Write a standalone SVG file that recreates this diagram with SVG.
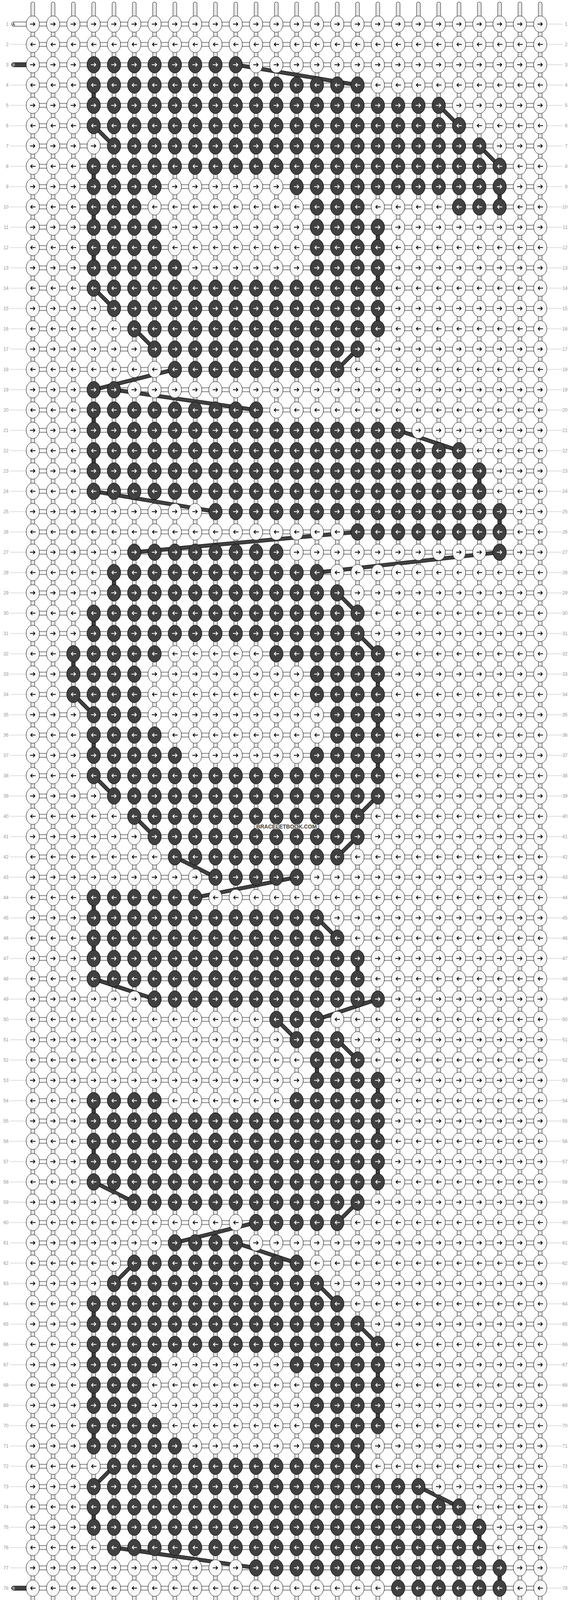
<svg xmlns="http://www.w3.org/2000/svg" width="1468" height="4232" viewBox="0 0 1468 4232">
<style>
.lt{fill:#f8f8f8;stroke:#000;stroke-width:1}
.dk{fill:#404040;stroke:#000;stroke-width:1}
.ab{fill:none;stroke:#000;stroke-width:2}
.aw{fill:none;stroke:#fff;stroke-width:2}
.v1{fill:none;stroke:#000;stroke-width:10.5;stroke-linecap:round}
.v2{fill:none;stroke:#f8f8f8;stroke-width:8.5;stroke-linecap:round}
.v3{fill:none;stroke:#b8b8b8;stroke-width:4.2}
.v4{fill:none;stroke:#f8f8f8;stroke-width:2.6}
.b1{fill:none;stroke:#000;stroke-width:10}
.b2{fill:none;stroke:#404040;stroke-width:8}
.n{font-family:"Liberation Sans",Arial,sans-serif;font-size:12px;fill:#999;text-anchor:end}
.lb{font-family:"Liberation Sans",Arial,sans-serif;font-size:10px}
.wm{font-family:"Liberation Sans",Arial,sans-serif;font-size:14px;font-weight:bold;fill:#484848;stroke:#f4f4f4;stroke-width:2.5;paint-order:stroke;text-anchor:middle}
</style>
<defs>
<path id="ar" d="M-7,0H5M1,-4.6L5.4,0L1,4.6"/>
<pattern id="pl" patternUnits="userSpaceOnUse" x="58" y="35.7" width="52" height="104">
<ellipse class="lt" cx="26" cy="26" rx="17" ry="21"/>
<use href="#ar" class="ab" transform="translate(26,26)"/>
<ellipse class="lt" cx="26" cy="78" rx="17" ry="21"/>
<use href="#ar" class="ab" transform="translate(26,78) scale(-1,1)"/>
</pattern>
<pattern id="pd" patternUnits="userSpaceOnUse" x="58" y="35.7" width="52" height="104">
<ellipse class="dk" cx="26" cy="26" rx="17" ry="21"/>
<use href="#ar" class="aw" transform="translate(26,26)"/>
<ellipse class="dk" cx="26" cy="78" rx="17" ry="21"/>
<use href="#ar" class="aw" transform="translate(26,78) scale(-1,1)"/>
</pattern>
<pattern id="hp" patternUnits="userSpaceOnUse" x="0" y="35.7" width="1468" height="52">
<rect y="20.5" width="1468" height="11" fill="#000"/>
<rect y="21.5" width="1468" height="9" fill="#f8f8f8"/>
</pattern>
<pattern id="gp" patternUnits="userSpaceOnUse" x="0" y="35.7" width="1468" height="52">
<rect y="25.5" width="1468" height="1" fill="#bbb"/>
</pattern>
<path id="vs" d="M84,10V4221.5M136,10V4221.5M188,10V4221.5M240,10V4221.5M292,10V4221.5M344,10V4221.5M396,10V4221.5M448,10V4221.5M500,10V4221.5M552,10V4221.5M604,10V4221.5M656,10V4221.5M708,10V4221.5M760,10V4221.5M812,10V4221.5M864,10V4221.5M916,10V4221.5M968,10V4221.5M1020,10V4221.5M1072,10V4221.5M1124,10V4221.5M1176,10V4221.5M1228,10V4221.5M1280,10V4221.5M1332,10V4221.5M1384,10V4221.5"/>
<path id="bs" d="M604,165.7L916,217.7M240,217.7V269.7M1124,269.7L1176,321.7M240,321.7L292,373.7M1228,373.7L1280,425.7M240,425.7V477.7M1280,477.7V529.7M240,529.7V581.7M968,581.7V633.7M240,633.7V685.7M968,685.7V737.7M240,737.7L292,789.7M968,789.7V841.7M344,841.7L396,893.7M916,893.7L864,945.7M448,945.7L240,997.7M292,997.7L656,1049.7M240,1049.7V1101.7M1020,1101.7L1176,1153.7M240,1153.7V1205.7M1228,1205.7V1257.7M240,1257.7L552,1309.7M1280,1309.7V1361.7M916,1361.7L344,1413.7M1280,1413.7L812,1465.7M292,1465.7V1517.7M864,1517.7L916,1569.7M240,1569.7V1621.7M916,1621.7L968,1673.7M188,1673.7V1725.7M968,1725.7V1777.7M188,1777.7L240,1829.7M968,1829.7V1881.7M240,1881.7V1933.7M968,1933.7V1985.7M240,1985.7L292,2037.7M968,2037.7L916,2089.7M344,2089.7L396,2141.7M916,2141.7L864,2193.7M448,2193.7L552,2245.7M760,2245.7L500,2297.7M240,2297.7V2349.7M812,2349.7L864,2401.7M240,2401.7V2453.7M916,2453.7V2505.7M240,2505.7L396,2557.7M968,2557.7L812,2609.7M708,2609.7L760,2661.7M864,2661.7L916,2713.7M812,2713.7V2765.7M968,2765.7V2817.7M240,2817.7V2869.7M968,2869.7V2921.7M240,2921.7V2973.7M968,2973.7V3025.7M240,3025.7L344,3077.7M916,3077.7L864,3129.7M656,3129.7L448,3181.7M604,3181.7L760,3233.7M344,3233.7L292,3285.7M812,3285.7L864,3337.7M240,3337.7V3389.7M916,3389.7L968,3441.7M240,3441.7V3493.7M968,3493.7V3545.7M240,3545.7V3597.7M968,3597.7V3649.7M240,3649.7V3701.7M916,3701.7V3753.7M292,3753.7L240,3805.7M1072,3805.7L1176,3857.7M240,3857.7V3909.7M1228,3909.7V3961.7M292,3961.7L656,4013.7M1280,4013.7V4065.7"/>
</defs>
<rect width="1468" height="4232" fill="#fff"/>
<g id="strings">
<use href="#vs" class="v1"/><use href="#vs" class="v2"/><use href="#vs" class="v3"/><use href="#vs" class="v4"/>
<rect x="84" y="35.7" width="1300" height="4160" fill="url(#hp)"/>
</g>
<g id="row-lines">
<rect x="1401.5" y="35.7" width="39.5" height="4160" fill="url(#gp)"/>
<rect x="26" y="87.7" width="41" height="52" fill="url(#gp)"/>
<rect x="26" y="191.7" width="41" height="3848" fill="url(#gp)"/>
<rect x="26" y="4091.7" width="41" height="52" fill="url(#gp)"/>
</g>
<g id="string-ends">
<rect class="lt" x="29.5" y="56.2" width="60" height="11" rx="5.5"/><text class="lb" x="31.5" y="65.5">A</text>
<rect class="dk" x="29.5" y="160.2" width="60" height="11" rx="5.5"/><text class="lb" x="31.5" y="169.5" fill="#eee">B</text>
<rect class="dk" x="29.5" y="4060.2" width="60" height="11" rx="5.5"/><text class="lb" x="31.5" y="4069.5" fill="#eee">B</text>
<rect class="lt" x="29.5" y="4164.2" width="60" height="11" rx="5.5"/><text class="lb" x="31.5" y="4173.5">A</text>
</g>
<g id="connectors"><use href="#bs" class="b1"/><use href="#bs" class="b2"/></g>
<g id="knots">
<rect x="58" y="35.7" width="1352" height="4160" fill="url(#pl)"/>
<g id="dark-knots" fill="url(#pd)">
<rect x="214" y="139.7" width="416" height="52"/>
<rect x="214" y="191.7" width="728" height="52"/>
<rect x="214" y="243.7" width="936" height="52"/>
<rect x="214" y="295.7" width="988" height="52"/>
<rect x="266" y="347.7" width="988" height="52"/>
<rect x="214" y="399.7" width="1092" height="52"/>
<rect x="214" y="451.7" width="208" height="52"/>
<rect x="734" y="451.7" width="572" height="52"/>
<rect x="214" y="503.7" width="156" height="52"/>
<rect x="786" y="503.7" width="156" height="52"/>
<rect x="1150" y="503.7" width="156" height="52"/>
<rect x="214" y="555.7" width="208" height="104"/>
<rect x="786" y="555.7" width="208" height="156"/>
<rect x="214" y="659.7" width="260" height="52"/>
<rect x="214" y="711.7" width="780" height="52"/>
<rect x="266" y="763.7" width="728" height="52"/>
<rect x="318" y="815.7" width="676" height="52"/>
<rect x="370" y="867.7" width="572" height="52"/>
<rect x="422" y="919.7" width="468" height="52"/>
<rect x="214" y="971.7" width="104" height="52"/>
<rect x="214" y="1023.7" width="468" height="52"/>
<rect x="214" y="1075.7" width="832" height="52"/>
<rect x="214" y="1127.7" width="988" height="52"/>
<rect x="214" y="1179.7" width="1040" height="104"/>
<rect x="526" y="1283.7" width="780" height="52"/>
<rect x="890" y="1335.7" width="416" height="52"/>
<rect x="318" y="1387.7" width="416" height="52"/>
<rect x="1254" y="1387.7" width="52" height="52"/>
<rect x="266" y="1439.7" width="572" height="52"/>
<rect x="266" y="1491.7" width="624" height="52"/>
<rect x="214" y="1543.7" width="728" height="104"/>
<rect x="162" y="1647.7" width="260" height="52"/>
<rect x="682" y="1647.7" width="312" height="52"/>
<rect x="162" y="1699.7" width="208" height="104"/>
<rect x="786" y="1699.7" width="208" height="104"/>
<rect x="214" y="1803.7" width="156" height="52"/>
<rect x="838" y="1803.7" width="156" height="104"/>
<rect x="214" y="1855.7" width="208" height="52"/>
<rect x="214" y="1907.7" width="260" height="52"/>
<rect x="786" y="1907.7" width="208" height="52"/>
<rect x="214" y="1959.7" width="780" height="52"/>
<rect x="266" y="2011.7" width="728" height="52"/>
<rect x="318" y="2063.7" width="624" height="52"/>
<rect x="370" y="2115.7" width="572" height="52"/>
<rect x="422" y="2167.7" width="468" height="52"/>
<rect x="526" y="2219.7" width="260" height="52"/>
<rect x="214" y="2271.7" width="312" height="52"/>
<rect x="214" y="2323.7" width="624" height="52"/>
<rect x="214" y="2375.7" width="676" height="52"/>
<rect x="214" y="2427.7" width="728" height="104"/>
<rect x="370" y="2531.7" width="624" height="52"/>
<rect x="682" y="2583.7" width="156" height="52"/>
<rect x="734" y="2635.7" width="156" height="52"/>
<rect x="786" y="2687.7" width="156" height="52"/>
<rect x="786" y="2739.7" width="208" height="52"/>
<rect x="214" y="2791.7" width="208" height="52"/>
<rect x="734" y="2791.7" width="260" height="52"/>
<rect x="214" y="2843.7" width="780" height="208"/>
<rect x="318" y="3051.7" width="624" height="52"/>
<rect x="630" y="3103.7" width="260" height="52"/>
<rect x="422" y="3155.7" width="208" height="52"/>
<rect x="318" y="3207.7" width="468" height="52"/>
<rect x="266" y="3259.7" width="572" height="52"/>
<rect x="214" y="3311.7" width="676" height="52"/>
<rect x="214" y="3363.7" width="728" height="52"/>
<rect x="214" y="3415.7" width="780" height="52"/>
<rect x="214" y="3467.7" width="208" height="52"/>
<rect x="734" y="3467.7" width="260" height="52"/>
<rect x="214" y="3519.7" width="156" height="104"/>
<rect x="786" y="3519.7" width="208" height="156"/>
<rect x="214" y="3623.7" width="208" height="52"/>
<rect x="214" y="3675.7" width="260" height="52"/>
<rect x="786" y="3675.7" width="156" height="52"/>
<rect x="266" y="3727.7" width="676" height="52"/>
<rect x="214" y="3779.7" width="884" height="52"/>
<rect x="214" y="3831.7" width="988" height="52"/>
<rect x="214" y="3883.7" width="1040" height="52"/>
<rect x="266" y="3935.7" width="988" height="52"/>
<rect x="630" y="3987.7" width="676" height="52"/>
<rect x="994" y="4039.7" width="312" height="52"/>
</g>
</g>
<g id="labels-left" class="n" transform="translate(22,0)">
<text y="66">1</text><text y="118">2</text><text y="170">3</text><text y="222">4</text><text y="274">5</text><text y="326">6</text><text y="378">7</text><text y="430">8</text><text y="482">9</text><text y="534">10</text><text y="586">11</text><text y="638">12</text><text y="690">13</text><text y="742">14</text><text y="794">15</text><text y="846">16</text><text y="898">17</text><text y="950">18</text><text y="1002">19</text><text y="1054">20</text><text y="1106">21</text><text y="1158">22</text><text y="1210">23</text><text y="1262">24</text><text y="1314">25</text><text y="1366">26</text><text y="1418">27</text><text y="1470">28</text><text y="1522">29</text><text y="1574">30</text><text y="1626">31</text><text y="1678">32</text><text y="1730">33</text><text y="1782">34</text><text y="1834">35</text><text y="1886">36</text><text y="1938">37</text><text y="1990">38</text><text y="2042">39</text><text y="2094">40</text><text y="2146">41</text><text y="2198">42</text><text y="2250">43</text><text y="2302">44</text><text y="2354">45</text><text y="2406">46</text><text y="2458">47</text><text y="2510">48</text><text y="2562">49</text><text y="2614">50</text><text y="2666">51</text><text y="2718">52</text><text y="2770">53</text><text y="2822">54</text><text y="2874">55</text><text y="2926">56</text><text y="2978">57</text><text y="3030">58</text><text y="3082">59</text><text y="3134">60</text><text y="3186">61</text><text y="3238">62</text><text y="3290">63</text><text y="3342">64</text><text y="3394">65</text><text y="3446">66</text><text y="3498">67</text><text y="3550">68</text><text y="3602">69</text><text y="3654">70</text><text y="3706">71</text><text y="3758">72</text><text y="3810">73</text><text y="3862">74</text><text y="3914">75</text><text y="3966">76</text><text y="4018">77</text><text y="4070">78</text><text y="4122">79</text><text y="4174">80</text>
</g>
<g id="labels-right" class="n" transform="translate(1454,0)">
<text y="66">1</text><text y="118">2</text><text y="170">3</text><text y="222">4</text><text y="274">5</text><text y="326">6</text><text y="378">7</text><text y="430">8</text><text y="482">9</text><text y="534">10</text><text y="586">11</text><text y="638">12</text><text y="690">13</text><text y="742">14</text><text y="794">15</text><text y="846">16</text><text y="898">17</text><text y="950">18</text><text y="1002">19</text><text y="1054">20</text><text y="1106">21</text><text y="1158">22</text><text y="1210">23</text><text y="1262">24</text><text y="1314">25</text><text y="1366">26</text><text y="1418">27</text><text y="1470">28</text><text y="1522">29</text><text y="1574">30</text><text y="1626">31</text><text y="1678">32</text><text y="1730">33</text><text y="1782">34</text><text y="1834">35</text><text y="1886">36</text><text y="1938">37</text><text y="1990">38</text><text y="2042">39</text><text y="2094">40</text><text y="2146">41</text><text y="2198">42</text><text y="2250">43</text><text y="2302">44</text><text y="2354">45</text><text y="2406">46</text><text y="2458">47</text><text y="2510">48</text><text y="2562">49</text><text y="2614">50</text><text y="2666">51</text><text y="2718">52</text><text y="2770">53</text><text y="2822">54</text><text y="2874">55</text><text y="2926">56</text><text y="2978">57</text><text y="3030">58</text><text y="3082">59</text><text y="3134">60</text><text y="3186">61</text><text y="3238">62</text><text y="3290">63</text><text y="3342">64</text><text y="3394">65</text><text y="3446">66</text><text y="3498">67</text><text y="3550">68</text><text y="3602">69</text><text y="3654">70</text><text y="3706">71</text><text y="3758">72</text><text y="3810">73</text><text y="3862">74</text><text y="3914">75</text><text y="3966">76</text><text y="4018">77</text><text y="4070">78</text><text y="4122">79</text><text y="4174">80</text>
</g>
<text id="watermark" class="wm" x="734" y="2120.7">BRACELETBOOK.COM</text>
</svg>
